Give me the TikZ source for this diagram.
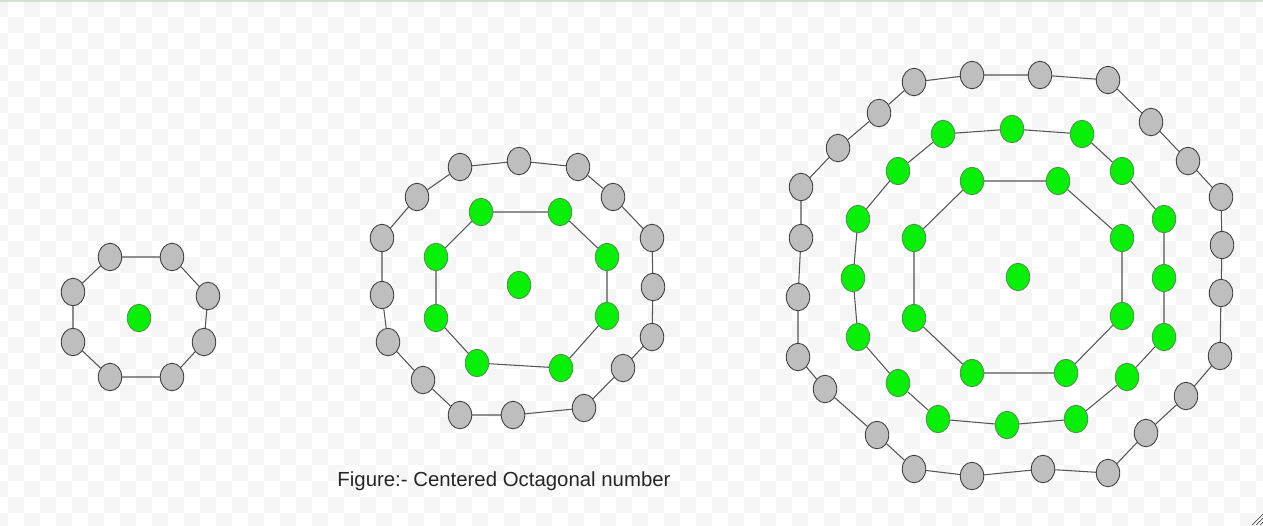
\documentclass[tikz,border=0pt]{standalone}
\usepackage{fontspec}
\setmainfont{Liberation Sans}
\usetikzlibrary{shapes.geometric}

\definecolor{dotgray}{RGB}{190,190,190}
\definecolor{dotgreen}{RGB}{8,240,8}
\definecolor{ringline}{RGB}{85,85,85}
\definecolor{checker}{RGB}{245,245,245}
\definecolor{topline}{RGB}{214,222,214}

\tikzset{
  graydot/.style={ellipse, draw=black!75, fill=dotgray, line width=0.5pt,
    minimum width=0.47cm, minimum height=0.55cm, inner sep=0pt},
  greendot/.style={graydot, draw=black!60!green!70, fill=dotgreen},
  ringedge/.style={draw=ringline, line width=0.6pt}
}

\begin{document}
\begin{tikzpicture}[x=0.02cm, y=-0.02cm]

    % Le fond en damier
    \fill[white] (0,0) rectangle (1263,525);
    \useasboundingbox (0,0) rectangle (1263,525);
    \foreach \x in {-8,24,...,1263} {
        \foreach \y in {1,33,...,525} {
            \fill[checker] (\x,\y) rectangle +(16,16);
            \fill[checker] (\x+16,\y+16) rectangle +(16,16);
        }
    }
    \fill[topline] (0,0) rectangle (1263,1.5);
    \draw[black!70, line width=0.4pt] (1252,525) -- (1263,514) (1256,525) -- (1263,518) (1260,525) -- (1263,522);

    % Premier octogone : 1 + 8
    \node[greendot] (c1) at (139,318) {};
    \node[graydot] (a1) at (110,257) {};
    \node[graydot] (a2) at (172,257) {};
    \node[graydot] (a3) at (208,296) {};
    \node[graydot] (a4) at (204,342) {};
    \node[graydot] (a5) at (172,377) {};
    \node[graydot] (a6) at (110,377) {};
    \node[graydot] (a7) at (73,342) {};
    \node[graydot] (a8) at (73,292) {};
    \draw[ringedge] (a1) -- (a2) -- (a3) -- (a4) -- (a5) -- (a6) -- (a7) -- (a8) -- (a1);

    % Deuxième octogone : 1 + 8 + 16
    \node[greendot] (c2) at (519,285) {};

    \node[greendot] (b1) at (481,212) {};
    \node[greendot] (b2) at (560,212) {};
    \node[greendot] (b3) at (607,257) {};
    \node[greendot] (b4) at (607,316) {};
    \node[greendot] (b5) at (561,368) {};
    \node[greendot] (b6) at (477,363) {};
    \node[greendot] (b7) at (436,318) {};
    \node[greendot] (b8) at (436,257) {};
    \draw[ringedge] (b1) -- (b2) -- (b3) -- (b4) -- (b5) -- (b6) -- (b7) -- (b8) -- (b1);

    \node[graydot] (d1) at (460,167) {};
    \node[graydot] (d2) at (519,161) {};
    \node[graydot] (d3) at (578,167) {};
    \node[graydot] (d4) at (613,197) {};
    \node[graydot] (d5) at (652,238) {};
    \node[graydot] (d6) at (653,287) {};
    \node[graydot] (d7) at (652,337) {};
    \node[graydot] (d8) at (623,368) {};
    \node[graydot] (d9) at (584,408) {};
    \node[graydot] (d10) at (513,415) {};
    \node[graydot] (d11) at (460,415) {};
    \node[graydot] (d12) at (423,380) {};
    \node[graydot] (d13) at (388,342) {};
    \node[graydot] (d14) at (382,295) {};
    \node[graydot] (d15) at (382,238) {};
    \node[graydot] (d16) at (417,197) {};
    \draw[ringedge] (d1) -- (d2) -- (d3) -- (d4) -- (d5) -- (d6) -- (d7) -- (d8) -- (d9)
        -- (d10) -- (d11) -- (d12) -- (d13) -- (d14) -- (d15) -- (d16) -- (d1);

    % Troisième octogone : 1 + 8 + 16 + 24
    \node[greendot] (c3) at (1018,277) {};

    \node[greendot] (e1) at (972,181) {};
    \node[greendot] (e2) at (1058,181) {};
    \node[greendot] (e3) at (1122,238) {};
    \node[greendot] (e4) at (1122,316) {};
    \node[greendot] (e5) at (1066,373) {};
    \node[greendot] (e6) at (972,373) {};
    \node[greendot] (e7) at (914,318) {};
    \node[greendot] (e8) at (914,238) {};
    \draw[ringedge] (e1) -- (e2) -- (e3) -- (e4) -- (e5) -- (e6) -- (e7) -- (e8) -- (e1);

    \node[greendot] (f1) at (943,134) {};
    \node[greendot] (f2) at (1012,129) {};
    \node[greendot] (f3) at (1082,134) {};
    \node[greendot] (f4) at (1122,171) {};
    \node[greendot] (f5) at (1164,219) {};
    \node[greendot] (f6) at (1164,278) {};
    \node[greendot] (f7) at (1164,337) {};
    \node[greendot] (f8) at (1127,377) {};
    \node[greendot] (f9) at (1076,419) {};
    \node[greendot] (f10) at (1007,425) {};
    \node[greendot] (f11) at (938,419) {};
    \node[greendot] (f12) at (898,383) {};
    \node[greendot] (f13) at (858,337) {};
    \node[greendot] (f14) at (853,278) {};
    \node[greendot] (f15) at (858,219) {};
    \node[greendot] (f16) at (898,171) {};
    \draw[ringedge] (f1) -- (f2) -- (f3) -- (f4) -- (f5) -- (f6) -- (f7) -- (f8) -- (f9)
        -- (f10) -- (f11) -- (f12) -- (f13) -- (f14) -- (f15) -- (f16) -- (f1);

    \node[graydot] (g1) at (914,82) {};
    \node[graydot] (g2) at (972,75) {};
    \node[graydot] (g3) at (1040,75) {};
    \node[graydot] (g4) at (1108,80) {};
    \node[graydot] (g5) at (1151,122) {};
    \node[graydot] (g6) at (1188,161) {};
    \node[graydot] (g7) at (1221,197) {};
    \node[graydot] (g8) at (1222,245) {};
    \node[graydot] (g9) at (1221,293) {};
    \node[graydot] (g10) at (1220,356) {};
    \node[graydot] (g11) at (1186,396) {};
    \node[graydot] (g12) at (1146,433) {};
    \node[graydot] (g13) at (1108,473) {};
    \node[graydot] (g14) at (1043,469) {};
    \node[graydot] (g15) at (972,476) {};
    \node[graydot] (g16) at (914,469) {};
    \node[graydot] (g17) at (877,435) {};
    \node[graydot] (g18) at (825,389) {};
    \node[graydot] (g19) at (798,357) {};
    \node[graydot] (g20) at (798,297) {};
    \node[graydot] (g21) at (801,238) {};
    \node[graydot] (g22) at (801,187) {};
    \node[graydot] (g23) at (838,148) {};
    \node[graydot] (g24) at (879,113) {};
    \draw[ringedge] (g1) -- (g2) -- (g3) -- (g4) -- (g5) -- (g6) -- (g7) -- (g8) -- (g9)
        -- (g10) -- (g11) -- (g12) -- (g13) -- (g14) -- (g15) -- (g16) -- (g17) -- (g18)
        -- (g19) -- (g20) -- (g21) -- (g22) -- (g23) -- (g24) -- (g1);

    % La légende
    \node[text=black!85, font=\fontsize{11.6pt}{14pt}\selectfont] (caption) at (504,481) {Figure:- Centered Octagonal number};

\end{tikzpicture}
\end{document}
